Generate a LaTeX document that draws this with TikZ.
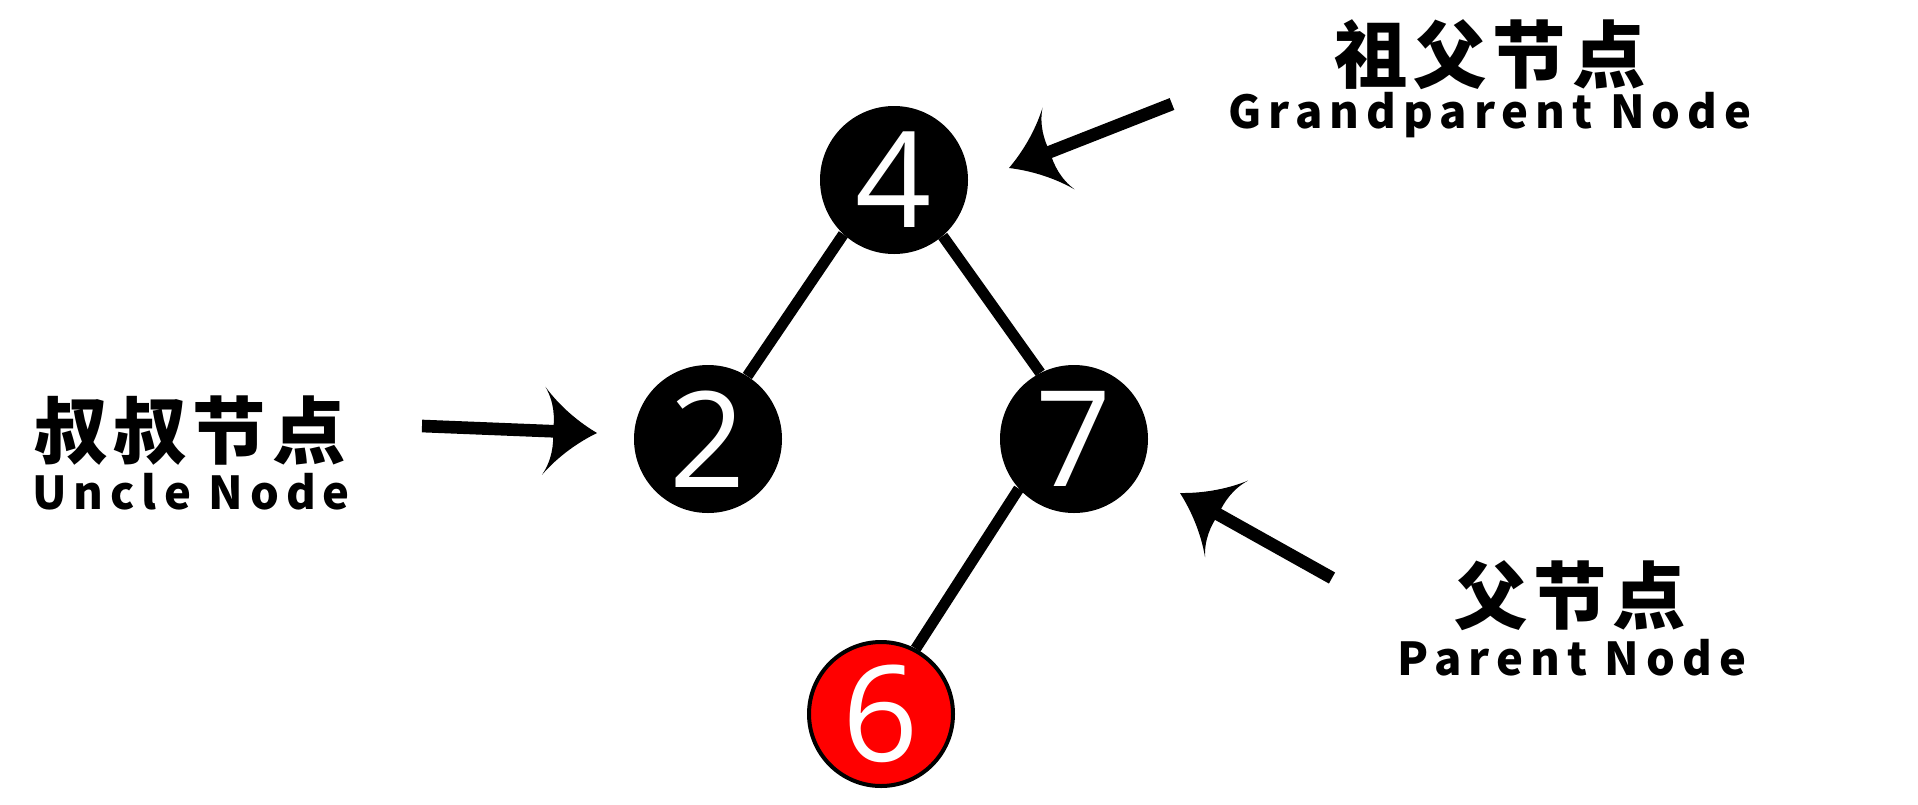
\documentclass[tikz,border=0pt]{standalone}
\usepackage{fontspec}
\usetikzlibrary{arrows.meta}
\newfontfamily\cjkfont[LetterSpace=8]{Noto Sans CJK SC}
\newfontfamily\latinfont[LetterSpace=15.5]{Noto Sans CJK SC}
\newfontfamily\digitfont{Open Sans}
\definecolor{rbred}{rgb}{1,0,0}
\definecolor{rbblack}{rgb}{0,0,0}
% curved barb arrow head
\pgfdeclarearrow{
  name = Swoop,
  setup code = {
    \pgfarrowssettipend{0pt}
    \pgfarrowssetlineend{-30pt}
    \pgfarrowssetbackend{-40pt}
    \pgfarrowsupperhullpoint{0pt}{0pt}
    \pgfarrowsupperhullpoint{-40pt}{33pt}
  },
  drawing code = {
    \pgfpathmoveto{\pgfqpoint{0pt}{0pt}}
    \pgfpathcurveto{\pgfqpoint{-13pt}{7pt}}{\pgfqpoint{-28pt}{18pt}}{\pgfqpoint{-40pt}{33pt}}
    \pgfpathcurveto{\pgfqpoint{-33pt}{22pt}}{\pgfqpoint{-32pt}{10pt}}{\pgfqpoint{-33pt}{0pt}}
    \pgfpathcurveto{\pgfqpoint{-32pt}{-10pt}}{\pgfqpoint{-33pt}{-22pt}}{\pgfqpoint{-40pt}{-33pt}}
    \pgfpathcurveto{\pgfqpoint{-28pt}{-18pt}}{\pgfqpoint{-13pt}{-7pt}}{\pgfqpoint{0pt}{0pt}}
    \pgfpathclose
    \pgfusepathqfill
  }
}
\begin{document}
\begin{tikzpicture}[line join=round,>=Swoop,x=0.75pt,y=-0.75pt,
  rbnode/.style={circle,inner sep=0pt,minimum size=111pt,fill=rbblack,text=white,
    font=\digitfont\fontsize{100}{110}\selectfont},
  rednode/.style={rbnode,fill=rbred,draw=rbblack,line width=3pt,minimum size=108pt},
  cjklabel/.style={inner sep=0pt,font=\cjkfont\bfseries\fontsize{55}{60}\selectfont},
  enlabel/.style={inner sep=0pt,anchor=base,font=\latinfont\bfseries\fontsize{34}{40}\selectfont},
  tree/.style={line width=8.25pt},
  pointer/.style={->,line width=9.5pt}]
\useasboundingbox (0,0) rectangle (1918,804);
% tree nodes
\node[rbnode] (n4) at (894,180) {4};
\node[rbnode] (n2) at (708,439) {2};
\node[rbnode] (n7) at (1074,439) {7};
\node[rednode] (n6) at (881,714) {6};
\draw[tree] (n4.227) -- (n2.58);
\draw[tree] (n4.311) -- (n7.117);
\draw[tree] (n7.222) -- (n6.62);
% labels
\node[cjklabel] (gpcn) at (1490,55) {祖父节点};
\node[enlabel] (gpen) at (1490,128) {Grandparent Node};
\node[cjklabel] (uncn) at (190,431) {叔叔节点};
\node[enlabel] (unen) at (191,509) {Uncle Node};
\node[cjklabel] (pacn) at (1570,596) {父节点};
\node[enlabel] (paen) at (1572,675) {Parent Node};
% pointers
\coordinate (gptail) at (1172,104);
\coordinate (gptip) at (1009,168);
\coordinate (untail) at (422,426);
\coordinate (untip) at (597,433);
\coordinate (patail) at (1332,578);
\coordinate (patip) at (1180,493);
\draw[pointer] (gptail) -- (gptip);
\draw[pointer] (untail) -- (untip);
\draw[pointer] (patail) -- (patip);
\end{tikzpicture}
\end{document}
